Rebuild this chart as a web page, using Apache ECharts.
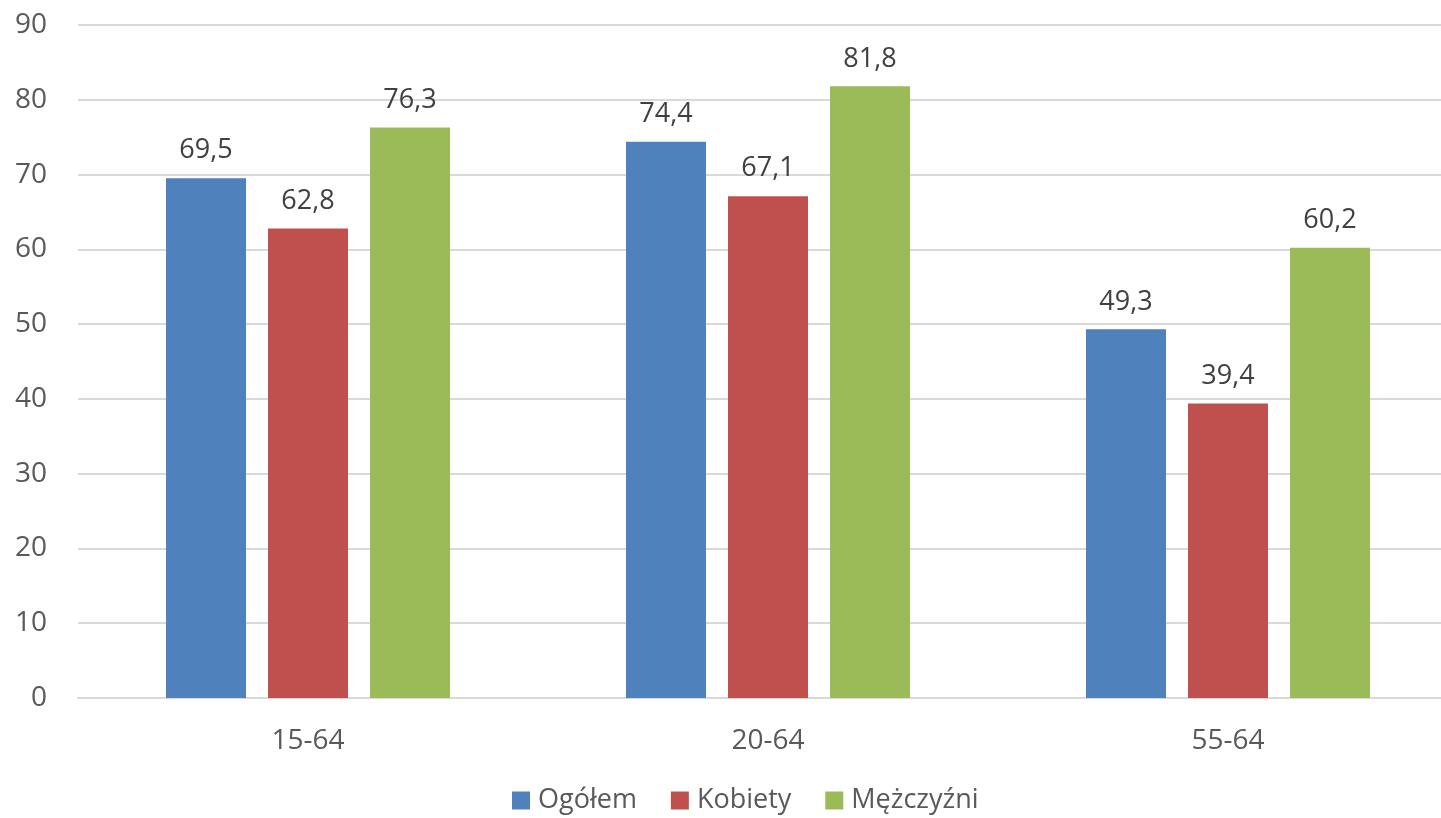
<!DOCTYPE html>
<html><head><meta charset="utf-8">
<script src="https://cdn.jsdelivr.net/npm/echarts@6/dist/echarts.min.js"></script>
<style>html,body{margin:0;padding:0;background:#fff;overflow:hidden}#c{width:1460px;height:818px}</style>
</head><body><div id="c"></div>
<script>
const categories = ['15-64', '20-64', '55-64'];
const seriesNames = ['Ogółem', 'Kobiety', 'Mężczyźni'];
const ogolem = [69.5, 74.4, 49.3];
const kobiety = [62.8, 67.1, 39.4];
const mezczyzni = [76.3, 81.8, 60.2];
const colors = ['#4F81BD', '#C0504D', '#9BBB59'];
const font = '"Open Sans", sans-serif';

const chart = echarts.init(document.getElementById('c'));
const mk = (name, data, color) => ({
  name, type: 'bar', data, barWidth: 80, barGap: '27.5%',
  itemStyle: { color },
  label: { show: true, position: 'top', distance: 14, color: '#404040', fontSize: 27, fontFamily: font,
    formatter: p => p.value.toFixed(1).replace('.', ',') }
});
chart.setOption({
  animation: false,
  textStyle: { fontFamily: font },
  legend: {
    left: 512, bottom: 4, padding: 0, itemWidth: 18, itemHeight: 18, itemGap: 34, icon: 'rect',
    textStyle: { color: '#595959', fontSize: 27, fontFamily: font, padding: [0, 0, 0, 3] },
    data: seriesNames
  },
  grid: { left: 78, top: 25, right: 2, height: 673, containLabel: false },
  xAxis: {
    type: 'category', data: categories,
    axisLine: { lineStyle: { color: '#D9D9D9', width: 2 } },
    axisTick: { show: false },
    axisLabel: { color: '#595959', fontSize: 28, fontFamily: font, margin: 29 }
  },
  yAxis: {
    type: 'value', min: 0, max: 90, interval: 10,
    axisLine: { show: false }, axisTick: { show: false },
    splitLine: { lineStyle: { color: '#D9D9D9', width: 2 } },
    axisLabel: { color: '#595959', fontSize: 28, fontFamily: font, margin: 31 }
  },
  series: [mk(seriesNames[0], ogolem, colors[0]), mk(seriesNames[1], kobiety, colors[1]), mk(seriesNames[2], mezczyzni, colors[2])]
});
</script></body></html>
